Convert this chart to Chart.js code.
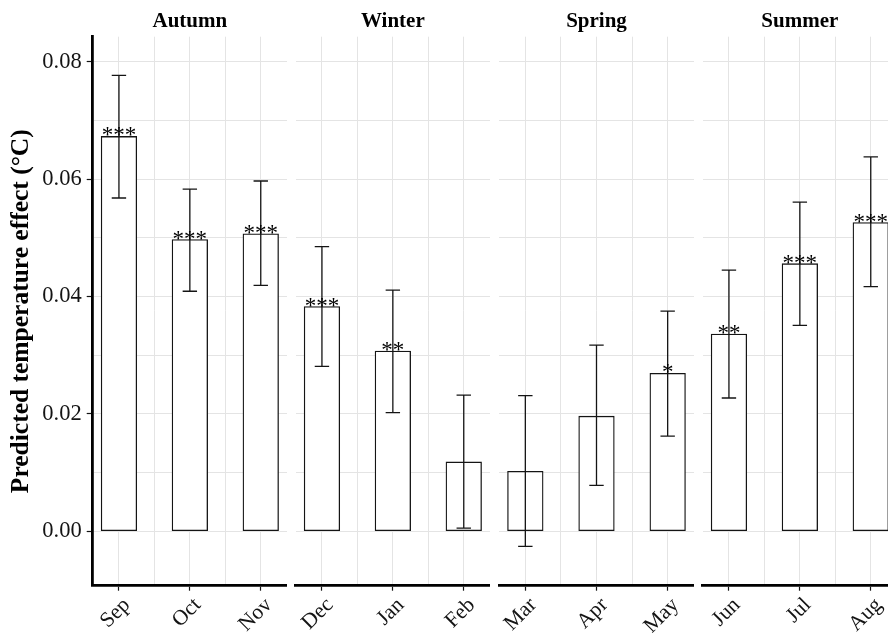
<!DOCTYPE html>
<html>
<head>
<meta charset="utf-8">
<script src="https://cdn.jsdelivr.net/npm/chart.js@4.4.1/dist/chart.umd.min.js"></script>
<style>
  html, body { margin:0; padding:0; background:#fff; }
  body { width:888px; height:633px; overflow:hidden; position:relative; }
  canvas { position:absolute; top:0; }
</style>
</head>
<body>
<script>
// ---------- data ----------
const seasons     = ['Autumn', 'Winter', 'Spring', 'Summer'];
const months      = ['Sep', 'Oct', 'Nov', 'Dec', 'Jan', 'Feb', 'Mar', 'Apr', 'May', 'Jun', 'Jul', 'Aug'];
const monthSeason = ['Autumn', 'Autumn', 'Autumn', 'Winter', 'Winter', 'Winter', 'Spring', 'Spring', 'Spring', 'Summer', 'Summer', 'Summer'];
const estimates   = [0.0673, 0.0497, 0.0507, 0.0383, 0.0307, 0.0118, 0.0102, 0.0196, 0.0269, 0.0336, 0.0456, 0.0526];
const lowerCI     = [0.0568, 0.0409, 0.0419, 0.0281, 0.0202, 0.0005, -0.0026, 0.0078, 0.0162, 0.0227, 0.0351, 0.0417];
const upperCI     = [0.0777, 0.0583, 0.0597, 0.0485, 0.0411, 0.0232, 0.0231, 0.0317, 0.0375, 0.0445, 0.0561, 0.0638];
const signif      = ['***', '***', '***', '***', '**', '', '', '', '*', '**', '***', '***'];
const yMajorTicks = [0.00, 0.02, 0.04, 0.06, 0.08];
const yTitle      = 'Predicted temperature effect (°C)';

// ---------- layout / style ----------
const Y_MIN = -0.0093, Y_MAX = 0.0843;
const X_EXPAND = 0.37;
const PANEL_LEFTS = [92.7, 295.7, 499, 702.7];
const PANEL_W = 194.5;
const H = 633, AREA_TOP = 36.7, AREA_BOTTOM = 585.7;
const FONT = '"Liberation Serif", "Times New Roman", serif';
const INK = '#141414';
const GRID = '#e4e4e4';
const CLEAR = 'rgba(0,0,0,0)';

Chart.defaults.font.family = FONT;
Chart.defaults.color = INK;

const isMajorY = v => yMajorTicks.some(t => Math.abs(t - v) < 1e-6);
const tickVal = c => (c && c.tick) ? c.tick.value : NaN;

const annotPlugin = {
  id: 'annot',
  afterDatasetsDraw(chart, args, opts) {
    const { ctx } = chart;
    const x = chart.scales.x, y = chart.scales.y;
    const idx = opts.idx;
    ctx.save();
    // error bars
    ctx.strokeStyle = INK;
    ctx.lineWidth = 1.3;
    idx.forEach((gi, i) => {
      const px = x.getPixelForValue(i);
      const yl = y.getPixelForValue(lowerCI[gi]);
      const yu = y.getPixelForValue(upperCI[gi]);
      const cap = 7.2;
      ctx.beginPath();
      ctx.moveTo(px, yl); ctx.lineTo(px, yu);
      ctx.moveTo(px - cap, yl); ctx.lineTo(px + cap, yl);
      ctx.moveTo(px - cap, yu); ctx.lineTo(px + cap, yu);
      ctx.stroke();
    });
    // significance stars
    ctx.fillStyle = '#000';
    ctx.font = '23px ' + FONT;
    ctx.textAlign = 'center';
    ctx.textBaseline = 'alphabetic';
    idx.forEach((gi, i) => {
      if (!signif[gi]) return;
      const px = x.getPixelForValue(i);
      const py = y.getPixelForValue(estimates[gi]);
      ctx.fillText(signif[gi], px, py + 6);
    });
    ctx.restore();
  }
};

seasons.forEach((season, k) => {
  const idx = monthSeason.map((s, i) => s === season ? i : -1).filter(i => i >= 0);
  const panelLeft = PANEL_LEFTS[k];
  const canvasLeft = k === 0 ? 0 : Math.floor(panelLeft - 30);
  const padLeft = k === 0 ? 0 : panelLeft - canvasLeft;
  const width = Math.round(panelLeft + PANEL_W) - canvasLeft;

  const cv = document.createElement('canvas');
  cv.width = width; cv.height = H;
  cv.style.left = canvasLeft + 'px';
  cv.style.width = width + 'px'; cv.style.height = H + 'px';
  document.body.appendChild(cv);

  const first = k === 0;

  new Chart(cv, {
    type: 'bar',
    data: {
      datasets: [{
        data: idx.map((gi, i) => ({ x: i, y: estimates[gi] })),
        backgroundColor: '#ffffff',
        borderColor: INK,
        borderWidth: 1.3,
        borderSkipped: false,
        barThickness: 35.6
      }]
    },
    options: {
      responsive: false,
      devicePixelRatio: 1,
      animation: false,
      events: [],
      layout: { padding: { left: padLeft, right: 0, top: 0, bottom: 0 } },
      plugins: {
        legend: { display: false },
        tooltip: { enabled: false },
        title: { display: false },
        annot: { idx }
      },
      scales: {
        x: {
          type: 'linear',
          position: 'bottom',
          min: -X_EXPAND,
          max: idx.length - 1 + X_EXPAND,
          offset: false,
          grid: {
            offset: false,
            color: GRID,
            lineWidth: 1,
            tickLength: 5,
            tickColor: c => Number.isInteger(tickVal(c)) ? INK : CLEAR,
            tickWidth: 1.2
          },
          border: { display: true, color: '#000', width: 2.8 },
          ticks: {
            stepSize: 0.5,
            includeBounds: false,
            autoSkip: false,
            minRotation: 45,
            maxRotation: 45,
            padding: 2,
            labelOffset: 8,
            color: INK,
            font: { size: 21.5 },
            callback: v => Number.isInteger(v) ? months[idx[v]] : ''
          },
          afterFit: s => { s.height = H - AREA_BOTTOM; s.paddingLeft = 0; s.paddingRight = 0; }
        },
        x2: {
          type: 'linear',
          position: 'top',
          display: true,
          grid: { display: false, drawTicks: false },
          border: { display: false },
          ticks: { display: false },
          title: {
            display: true,
            text: season,
            color: '#000',
            font: { size: 21, weight: 'bold' },
            padding: { top: 8.6, bottom: 0 }
          },
          afterFit: s => { s.height = AREA_TOP; s.paddingLeft = 0; s.paddingRight = 0; }
        },
        y: {
          type: 'linear',
          position: 'left',
          min: Y_MIN,
          max: Y_MAX,
          grid: {
            color: GRID,
            lineWidth: 1,
            drawTicks: first,
            tickLength: 6,
            tickColor: c => isMajorY(tickVal(c)) ? INK : CLEAR,
            tickWidth: 1.2
          },
          border: { display: first, color: '#000', width: 2.8 },
          ticks: {
            display: first,
            stepSize: 0.01,
            includeBounds: false,
            autoSkip: false,
            padding: 5,
            color: INK,
            font: { size: 22.5 },
            callback: v => isMajorY(v) ? v.toFixed(2) : ''
          },
          title: {
            display: first,
            text: yTitle,
            color: '#000',
            font: { size: 25.5, weight: 'bold' },
            padding: { top: 6, bottom: 0 }
          },
          afterFit: s => { s.width = first ? panelLeft : 0; s.paddingTop = 0; s.paddingBottom = 0; }
        }
      }
    },
    plugins: [annotPlugin]
  });
});
</script>
</body>
</html>
